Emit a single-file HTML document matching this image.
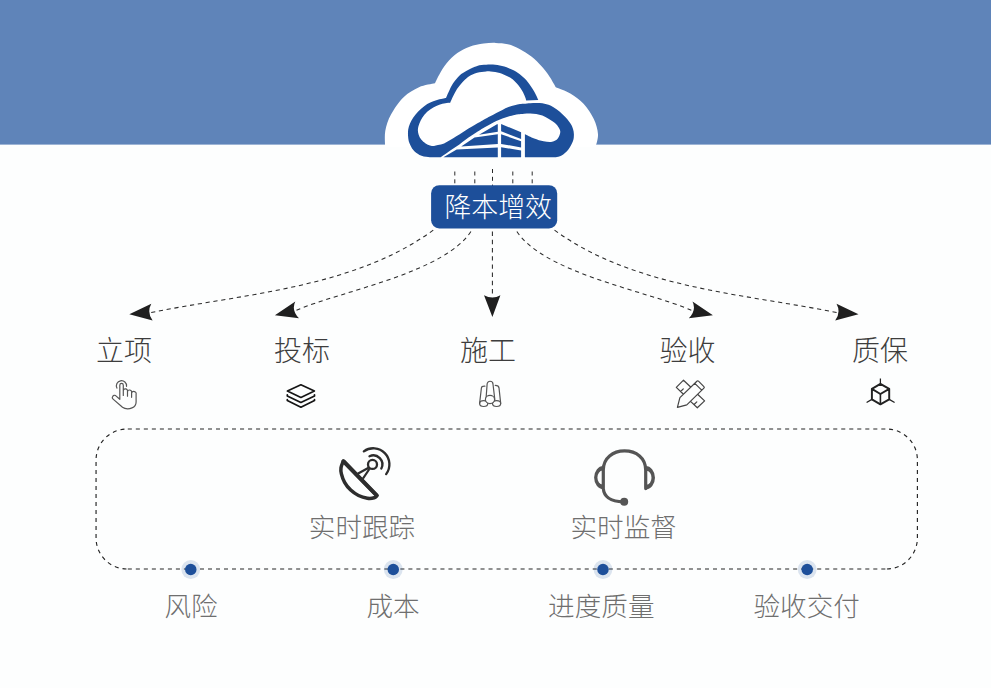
<!DOCTYPE html>
<html lang="zh"><head><meta charset="utf-8"><title>降本增效</title>
<style>
html,body{margin:0;padding:0;background:#fdfefe;font-family:"Liberation Sans",sans-serif;}
body{width:991px;height:688px;overflow:hidden;}
svg{display:block;}
</style></head><body>
<svg width="991" height="688" viewBox="0 0 991 688">
<rect x="0" y="0" width="991" height="144.6" fill="#5f84b9"/>
<path d="M385.1 147C385.13 144.28 384.32 136.12 385.3 130.7C386.28 125.28 387.95 120.08 391 114.5C394.05 108.92 398.93 101.75 403.6 97.2C408.27 92.65 413.78 89.52 419 87.2C424.22 84.88 432.25 83.95 434.9 83.3C435.67 81.78 437.55 77.55 439.5 74.2C441.45 70.85 443.63 66.72 446.6 63.2C449.57 59.68 453.47 55.85 457.3 53.1C461.13 50.35 465.22 48.28 469.6 46.7C473.98 45.12 479.25 44.23 483.6 43.6C487.95 42.97 491.67 42.78 495.7 42.9C499.73 43.02 503.82 43.28 507.8 44.3C511.78 45.32 515.67 46.95 519.6 49C523.53 51.05 527.7 53.67 531.4 56.6C535.1 59.53 538.77 63.23 541.8 66.6C544.83 69.97 547.27 73.35 549.6 76.8C551.93 80.25 554.77 85.55 555.8 87.3C558.22 88.33 565.63 90.72 570.3 93.5C574.97 96.28 579.88 99.75 583.8 104C587.72 108.25 591.43 113.97 593.8 119C596.17 124.03 597.7 129.53 598 134.2C598.3 138.87 596 144.87 595.6 147Z" fill="#fff"/>
<path d="M446 98.05C446.42 97.08 447.32 94.71 448.5 92.25C449.68 89.79 451.25 86.1 453.1 83.3C454.95 80.5 457.42 77.52 459.6 75.47C461.78 73.42 464.05 72.28 466.2 71C468.35 69.72 470.68 68.65 472.5 67.8C474.32 66.95 475.58 66.37 477.1 65.9C478.62 65.43 480.08 65.2 481.6 65C483.12 64.8 484.68 64.77 486.2 64.7C487.72 64.63 489.2 64.58 490.7 64.6C492.2 64.62 493.68 64.65 495.2 64.8C496.72 64.95 498.28 65.2 499.8 65.5C501.32 65.8 502.78 66.15 504.3 66.6C505.82 67.05 507.45 67.63 508.9 68.2C510.35 68.77 511.18 68.98 513 70C514.82 71.02 517.53 72.55 519.8 74.3C522.07 76.05 524.57 78.22 526.6 80.5C528.63 82.78 530.43 85.6 532 88C533.57 90.4 534.95 92.92 536 94.9C537.05 96.88 537.92 99.07 538.3 99.9L526.2 100.6C526.03 100.03 525.85 98.8 525.2 97.2C524.55 95.6 523.47 93.03 522.3 91C521.13 88.97 519.82 86.97 518.2 85C516.58 83.03 514.22 80.58 512.6 79.2C510.98 77.82 509.92 77.45 508.5 76.7C507.08 75.95 505.55 75.3 504.1 74.7C502.65 74.1 501.28 73.55 499.8 73.1C498.32 72.65 496.72 72.27 495.2 72C493.68 71.73 492.2 71.6 490.7 71.5C489.2 71.4 487.72 71.33 486.2 71.4C484.68 71.47 483.12 71.67 481.6 71.9C480.08 72.13 478.62 72.35 477.1 72.8C475.58 73.25 474.02 73.88 472.5 74.6C470.98 75.32 469.72 75.78 468 77.1C466.28 78.42 464.03 80.55 462.2 82.53C460.37 84.52 458.52 86.72 457 89.01C455.48 91.3 454.23 93.99 453.1 96.29C451.97 98.59 450.68 101.72 450.2 102.8L445.5 101Z" fill="#1d4f9a"/>
<path d="M446 98.05C445.4 98.17 444.02 98.44 442.4 98.8C440.78 99.16 438.32 99.57 436.3 100.2C434.28 100.83 432.32 101.6 430.3 102.6C428.28 103.6 426.22 104.73 424.2 106.2C422.18 107.67 420.02 109.53 418.2 111.4C416.38 113.27 414.67 115.38 413.3 117.4C411.93 119.42 410.85 121.48 410 123.5C409.15 125.52 408.52 127.33 408.2 129.5C407.88 131.67 407.9 134.23 408.1 136.5C408.3 138.77 408.53 140.83 409.4 143.1C410.27 145.37 411.62 148.13 413.3 150.1C414.98 152.07 417.02 153.73 419.5 154.9C421.98 156.07 425.62 156.72 428.2 157.1C430.78 157.48 433.87 157.18 435 157.2L440.6 157.2C441.7 156.45 445.08 154.17 447.2 152.7C449.32 151.23 451.27 149.78 453.3 148.4C455.33 147.02 457.37 145.83 459.4 144.4C461.43 142.97 463.47 141.28 465.5 139.8C467.53 138.32 469.57 136.87 471.6 135.5C473.63 134.13 475.8 132.8 477.7 131.6C479.6 130.4 480.92 129.53 483 128.3C485.08 127.07 487.98 125.42 490.2 124.2C492.42 122.98 494.27 121.97 496.3 121C498.33 120.03 500.37 119.17 502.4 118.4C504.43 117.63 506.47 116.98 508.5 116.4C510.53 115.82 513.02 115.25 514.6 114.9C516.18 114.55 516.42 114.5 518 114.3C519.58 114.1 522.07 113.85 524.1 113.7C526.13 113.55 528.17 113.37 530.2 113.4C532.23 113.43 534.27 113.55 536.3 113.9C538.33 114.25 540.37 114.7 542.4 115.5C544.43 116.3 546.47 117.48 548.5 118.7C550.53 119.92 552.97 121.42 554.6 122.8C556.23 124.18 557.35 125.47 558.3 127C559.25 128.53 560.38 130.08 560.3 132C560.22 133.92 559.17 136.87 557.8 138.5C556.43 140.13 554.47 141.33 552.1 141.8C549.73 142.27 546.58 141.85 543.6 141.3C540.62 140.75 537.32 139.67 534.2 138.5C531.08 137.33 526.45 135 524.9 134.3L524.9 157.2L555.9 157.2C556.85 156.92 559.55 156.73 561.6 155.5C563.65 154.27 566.32 152.17 568.2 149.8C570.08 147.43 571.95 143.85 572.9 141.3C573.85 138.75 573.88 136.55 573.9 134.5C573.92 132.45 573.52 130.75 573 129C572.48 127.25 571.97 125.87 570.8 124C569.63 122.13 567.83 119.83 566 117.8C564.17 115.77 561.88 113.57 559.8 111.8C557.72 110.03 555.38 108.37 553.5 107.2C551.62 106.03 550.35 105.47 548.5 104.8C546.65 104.13 544.43 103.52 542.4 103.2C540.37 102.88 538.33 102.9 536.3 102.9C534.27 102.9 532.23 103.07 530.2 103.2C528.17 103.33 525.8 103.57 524.1 103.7C522.4 103.83 521.58 103.75 520 104C518.42 104.25 516.52 104.68 514.6 105.2C512.68 105.72 510.53 106.32 508.5 107.1C506.47 107.88 504.43 108.92 502.4 109.9C500.37 110.88 498.33 111.93 496.3 113C494.27 114.07 492.23 115.2 490.2 116.3C488.17 117.4 485.8 118.63 484.1 119.6C482.4 120.57 481.58 121.22 480 122.1C478.42 122.98 476.52 123.85 474.6 124.9C472.68 125.95 470.53 127.15 468.5 128.4C466.47 129.65 464.43 131.1 462.4 132.4C460.37 133.7 458.33 134.92 456.3 136.2C454.27 137.48 452.23 138.9 450.2 140.1C448.17 141.3 446.13 142.57 444.1 143.4C442.07 144.23 439.68 144.67 438 145.1C436.32 145.53 435.33 145.95 434 146C432.67 146.05 431.4 145.82 430 145.4C428.6 144.98 427.07 144.47 425.6 143.5C424.13 142.53 422.37 141.12 421.2 139.6C420.03 138.08 419.15 136.08 418.6 134.4C418.05 132.72 417.77 131.32 417.9 129.5C418.03 127.68 418.65 125.52 419.4 123.5C420.15 121.48 421.1 119.37 422.4 117.4C423.7 115.43 425.38 113.37 427.2 111.7C429.02 110.03 431.28 108.57 433.3 107.4C435.32 106.23 437.28 105.4 439.3 104.7C441.32 104 443.58 103.52 445.4 103.2C447.22 102.88 449.4 102.87 450.2 102.8Z" fill="#1d4f9a"/>
<path d="M479 134.7L497 124.2L497.8 124.2L497.8 131.7ZM461.2 146.4L474.5 137.4L497.8 134.2L497.8 143.9ZM443.4 157.2L456.7 149.5L497.8 147.4L497.8 157.2ZM501.1 124L521.1 132.3L521.1 138.9L501.1 131.3ZM501.1 134.3L521.1 141.2L521.1 147.4L501.1 143.9ZM501.1 147.2L521.1 150.5L521.1 157.2L501.1 157.2Z" fill="#1d4f9a"/>
<path d="M454.8 171.5V186" stroke="#2a2a2a" stroke-width="1.0" stroke-dasharray="4 3.8" fill="none"/>
<path d="M474.8 171.5V186" stroke="#2a2a2a" stroke-width="1.0" stroke-dasharray="4 3.8" fill="none"/>
<path d="M492.5 169V186" stroke="#2a2a2a" stroke-width="1.0" stroke-dasharray="4 3.8" fill="none"/>
<path d="M512.8 171.5V186" stroke="#2a2a2a" stroke-width="1.0" stroke-dasharray="4 3.8" fill="none"/>
<path d="M532.2 171.5V186" stroke="#2a2a2a" stroke-width="1.0" stroke-dasharray="4 3.8" fill="none"/>
<path d="M151.2 312.5C246.1 293.4 355.8 287.85 435.4 228.6" stroke="#2a2a2a" stroke-width="1.05" stroke-dasharray="4.2 3.7" fill="none"/>
<path d="M296.5 310.2C341.03 290.95 448.45 272.21 472.7 228.6" stroke="#2a2a2a" stroke-width="1.05" stroke-dasharray="4.2 3.7" fill="none"/>
<path d="M691.3 310.2C646.77 290.95 539.35 272.21 515.1 228.6" stroke="#2a2a2a" stroke-width="1.05" stroke-dasharray="4.2 3.7" fill="none"/>
<path d="M836.6 312.5C741.7 293.4 632 287.85 552.4 228.6" stroke="#2a2a2a" stroke-width="1.05" stroke-dasharray="4.2 3.7" fill="none"/>
<path d="M492.4 293.4V228.5" stroke="#2a2a2a" stroke-width="1.05" stroke-dasharray="4.4 3.8" fill="none"/>
<path d="M129.3 314.2L151.3 303.7Q146.65 312.3 152.6 320.5ZM274.9 315.2L295.3 301.5Q291.05 310.15 299 318.2ZM712.9 315.2L692.5 301.5Q696.75 310.15 688.8 318.2ZM858.5 314.2L836.5 303.7Q841.15 312.3 835.2 320.5ZM492.4 316.9L484 295.2Q492.6 300 500.4 295.2Z" fill="#1f1f1f"/>
<rect x="431.1" y="185.2" width="126.1" height="43.3" rx="8.2" fill="#1d4f9a"/>
<g text-anchor="middle" font-family="&quot;Liberation Sans&quot;, &quot;Noto Sans CJK SC&quot;, sans-serif" font-weight="300">
<text x="498.2" y="217.4" font-size="26.9" fill="#fff">降本增效</text>
<text x="124" y="360.9" font-size="28" fill="#3d3d3d">立项</text>
<text x="302.1" y="360.9" font-size="28" fill="#3d3d3d">投标</text>
<text x="488" y="360.9" font-size="28" fill="#3d3d3d">施工</text>
<text x="687.6" y="360.9" font-size="28" fill="#3d3d3d">验收</text>
<text x="880.1" y="360.9" font-size="28" fill="#3d3d3d">质保</text>
</g>
<path d="M127.8 429H886M127.8 569H886" fill="none" stroke="#242424" stroke-width="1.2" stroke-dasharray="4.05 3.966"/>
<path d="M127.1 429A31 31 0 0 0 96.05 460V538A31 31 0 0 0 127.1 569M886.4 429A31 31 0 0 1 917.4 460V538A31 31 0 0 1 886.4 569" fill="none" stroke="#242424" stroke-width="1.15" stroke-dasharray="4 4" stroke-dashoffset="5.3"/>
<circle cx="190.76" cy="569.5" r="9.4" fill="#1d4f9a" fill-opacity="0.15"/><circle cx="190.76" cy="569.5" r="5.75" fill="#1d4f9a"/>
<circle cx="393.26" cy="569.5" r="9.4" fill="#1d4f9a" fill-opacity="0.15"/><circle cx="393.26" cy="569.5" r="5.75" fill="#1d4f9a"/>
<circle cx="602.97" cy="569.5" r="9.4" fill="#1d4f9a" fill-opacity="0.15"/><circle cx="602.97" cy="569.5" r="5.75" fill="#1d4f9a"/>
<circle cx="807.2" cy="569.5" r="9.4" fill="#1d4f9a" fill-opacity="0.15"/><circle cx="807.2" cy="569.5" r="5.75" fill="#1d4f9a"/>
<g text-anchor="middle" font-family="&quot;Liberation Sans&quot;, &quot;Noto Sans CJK SC&quot;, sans-serif" font-weight="300" fill="#6f6f6f" font-size="26.6">
<text x="362" y="537.2">实时跟踪</text>
<text x="623.7" y="537.3">实时监督</text>
<text x="191.1" y="616.1">风险</text>
<text x="393.1" y="616.1">成本</text>
<text x="601.3" y="616.1">进度质量</text>
<text x="806.7" y="616.1">验收交付</text>
</g>
<path d="M116.9 388.1A5.1 5.1 0 1 1 126.55 386.3M119.8 399.3V385.2A1.75 1.75 0 0 1 123.3 385.2V395.4M123.3 390.6A2.1 1.9 0 0 1 127.5 391.1V396.2M127.5 391.7A2.05 1.8 0 0 1 131.6 391.9V397.3M131.6 393A2.25 2 0 0 1 136.1 394.1V402C136.1 405 134.6 407 132 407.9C130.5 408.6 129 408.9 127.6 408.9C125.5 408.9 123.8 408.3 122.5 407.3L113.1 399.1C112 398.1 111.9 397.4 112.6 396.6C113.4 395.2 114.6 394.9 115.6 395.6L119.8 399.3" fill="none" stroke="#555" stroke-width="1.2" stroke-linecap="round" stroke-linejoin="round"/>
<path d="M300.9 384.8L314.4 391L300.9 397.4L287.4 391ZM287.3 394.8V395.9L300.9 402.5L314.5 395.9V394.8M287.3 399.6V400.6L300.9 407.2L314.5 400.6V399.6" fill="none" stroke="#151515" stroke-width="1.7" stroke-linecap="round" stroke-linejoin="round"/>
<g fill="none" stroke="#555" stroke-width="1.2" stroke-linecap="round"><path d="M479.6 403.4L481.4 388C481.6 386.6 482.9 386 484.9 386.1M500.7 403.4L499 387.9C498.8 386 497.5 385.4 495.3 385.4"/><ellipse cx="483.7" cy="403.6" rx="4.1" ry="2.9"/><ellipse cx="496.6" cy="403.6" rx="4.1" ry="2.9"/><path d="M486 399.3L487.1 384.2A2.9 2.9 0 0 1 493 384.2L494.8 399.3" fill="#fdfefe"/><ellipse cx="490" cy="399.5" rx="4.6" ry="4.05" fill="#fdfefe"/></g>
<path d="M696.9 381.2Q697.7 380.4 698.5 381.2L703.9 386.6Q704.7 387.4 703.9 388.2L686.8 404.9L677.4 407.4L679.9 397.6ZM694.8 383.4L701.7 390.1M690.4 386.7L683.5 380.2L676.3 387.4L683.2 394M680.6 391.5L683.3 388.8M698.1 394.7L704.6 400.9L697.3 407.8L690.8 401.6M694.1 404.5L696.8 401.8" fill="none" stroke="#444" stroke-width="1.2" stroke-linecap="round" stroke-linejoin="round"/>
<path d="M880.4 383.8L889.2 388.9V399.4L880.4 404.3L871.9 399.4V388.9ZM871.9 388.9L880.4 394L889.2 388.9" fill="none" stroke="#222" stroke-width="1.95" stroke-linejoin="round"/>
<path d="M880.4 394V404.3" fill="none" stroke="#222" stroke-width="1.6"/>
<path d="M880.4 378.6V383.8M871.9 399.4L866.6 402.5M889.2 399.4L894.6 402.5" fill="none" stroke="#222" stroke-width="1.25"/>
<path d="M343.3 461.1C342.92 462.2 341.32 465.58 341 467.7C340.68 469.82 340.8 471.37 341.4 473.8C342 476.23 343.05 479.58 344.6 482.3C346.15 485.02 348.38 487.9 350.7 490.1C353.02 492.3 355.73 494.15 358.5 495.5C361.27 496.85 364.68 497.82 367.3 498.2C369.92 498.58 372.6 498.23 374.2 497.8C375.8 497.37 376.45 495.97 376.9 495.6Z" fill="none" stroke="#2d2d2d" stroke-width="3.5" stroke-linejoin="round"/>
<path d="M343.5 461.3L376.7 495.4" fill="none" stroke="#2d2d2d" stroke-width="4.1" stroke-linecap="round"/>
<path d="M357.7 473.8L368.6 467.8M362.9 478.6L369.4 469" fill="none" stroke="#2d2d2d" stroke-width="2.2"/>
<circle cx="372.5" cy="464.4" r="4.5" fill="none" stroke="#2d2d2d" stroke-width="2.3"/>
<path d="M369.50 456.24A9.00 9.00 0 0 1 381.32 468.49M363.84 451.37A16.10 16.10 0 0 1 386.16 474.09" fill="none" stroke="#2d2d2d" stroke-width="2.35" stroke-linecap="round"/>
<path d="M603.3 488.5V470C603.3 458 613 450.9 624.5 450.9C636.3 450.9 645.7 458 645.7 470V488.6M603.3 488.5C604 498 611.5 501.5 623.5 501.9" fill="none" stroke="#555" stroke-width="3.2" stroke-linecap="round"/>
<path d="M603.3 466.1A9.2 11.5 0 0 0 603.3 489.1ZM602.6 470.6A5.2 7 0 0 0 602.6 484.6ZM645.7 466.1A9.3 11.6 0 0 1 645.7 489.3ZM646.4 470.8A5.1 7 0 0 1 646.4 484.8Z" fill="#555" fill-rule="evenodd"/>
<circle cx="624.2" cy="501.7" r="4" fill="#555"/>
</svg>
</body></html>
